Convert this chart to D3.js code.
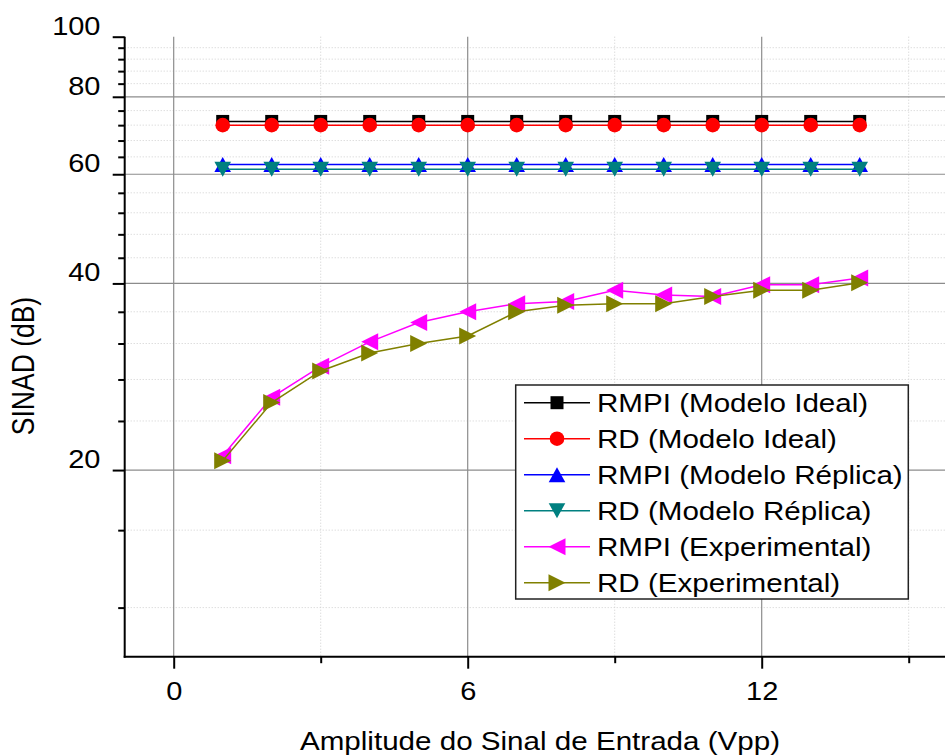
<!DOCTYPE html>
<html>
<head>
<meta charset="utf-8">
<script src="https://cdn.jsdelivr.net/npm/d3@7"></script>
<style>
  body { margin: 0; background: #fff; }
  svg { display: block; }
  text { font-family: "Liberation Sans", Arial, sans-serif; fill: #000; }
</style>
</head>
<body>
<svg id="chart" width="945" height="756"></svg>
<script>
// ---- data -------------------------------------------------------------
const amplitudes = [1, 2, 3, 4, 5, 6, 7, 8, 9, 10, 11, 12, 13, 14];

const rmpiIdeal   = [73.0, 73.0, 73.0, 73.0, 73.0, 73.0, 73.0, 73.0, 73.0, 73.0, 73.0, 73.0, 73.0, 73.0];
const rdIdeal     = [72.0, 72.0, 72.0, 72.0, 72.0, 72.0, 72.0, 72.0, 72.0, 72.0, 72.0, 72.0, 72.0, 72.0];
const rmpiReplica = [62.2, 62.2, 62.2, 62.2, 62.2, 62.2, 62.2, 62.2, 62.2, 62.2, 62.2, 62.2, 62.2, 62.2];
const rdReplica   = [61.1, 61.1, 61.1, 61.1, 61.1, 61.1, 61.1, 61.1, 61.1, 61.1, 61.1, 61.1, 61.1, 61.1];
const rmpiExp     = [21.1, 26.2, 29.4, 32.2, 34.6, 36.0, 37.1, 37.4, 39.0, 38.3, 38.1, 39.8, 39.8, 40.8];
const rdExp       = [20.7, 25.7, 28.9, 30.9, 32.0, 32.9, 36.0, 36.9, 37.1, 37.1, 38.1, 39.0, 39.0, 40.1];

const seriesNames = [
  "RMPI (Modelo Ideal)",
  "RD (Modelo Ideal)",
  "RMPI (Modelo Réplica)",
  "RD (Modelo Réplica)",
  "RMPI (Experimental)",
  "RD (Experimental)"
];

const xMajorTicks = [0, 6, 12];
const xMinorTicks = [3, 9, 15];
const yMajorTicks = [20, 40, 60, 80, 100];
const yMinorTicks = [12, 16, 24, 28, 32, 36, 44, 48, 52, 56, 64, 68, 72, 76, 84, 88, 92, 96];

const xLabel = "Amplitude do Sinal de Entrada (Vpp)";
const yLabel = "SINAD (dB)";

// ---- look -------------------------------------------------------------
const W = 945, H = 756;
const plot = { left: 124.7, top: 36.7, bottom: 656.7 };
const SX = 1.16;          // horizontal text stretch
const FS = 25.5;          // text size

const styles = [
  { color: "#000000", shape: "square" },
  { color: "#ff0000", shape: "circle" },
  { color: "#0000ff", shape: "up" },
  { color: "#008080", shape: "down" },
  { color: "#ff00ff", shape: "left" },
  { color: "#808000", shape: "right" }
];
const seriesValues = [rmpiIdeal, rdIdeal, rmpiReplica, rdReplica, rmpiExp, rdExp];

function markerPath(shape) {
  switch (shape) {
    case "square": return "M-6.5,-6.5H6.5V6.5H-6.5Z";
    case "circle": return d3.symbol(d3.symbolCircle, Math.PI * 7.3 * 7.3)();
    case "up":     return "M-8.3,7.5L0,-7.5L8.3,7.5Z";
    case "down":   return "M-8.3,-7.5L0,7.5L8.3,-7.5Z";
    case "left":   return "M-8.5,0L8.5,-8.5L8.5,8.5Z";
    case "right":  return "M8.5,0L-8.5,-8.5L-8.5,8.5Z";
  }
}

// ---- scales -----------------------------------------------------------
const x = d3.scaleLinear().domain([-1, 16]).range([plot.left, plot.left + 17 * 49]);
const y = d3.scaleLog().domain([10, 100]).range([plot.bottom, plot.top]);

const svg = d3.select("#chart");
svg.append("rect").attr("width", W).attr("height", H).attr("fill", "#fff");

// ---- grid -------------------------------------------------------------
const grid = svg.append("g");
grid.selectAll(".hminor").data(yMinorTicks).join("line")
  .attr("x1", plot.left).attr("x2", W)
  .attr("y1", d => y(d)).attr("y2", d => y(d))
  .attr("stroke", "#cfcfcf").attr("stroke-width", 1).attr("stroke-dasharray", "1,2");
grid.selectAll(".vminor").data(xMinorTicks).join("line")
  .attr("x1", d => x(d)).attr("x2", d => x(d))
  .attr("y1", plot.top).attr("y2", plot.bottom)
  .attr("stroke", "#cfcfcf").attr("stroke-width", 1).attr("stroke-dasharray", "1,2");
grid.selectAll(".hmajor").data(yMajorTicks.filter(d => d < 100)).join("line")
  .attr("x1", plot.left).attr("x2", W)
  .attr("y1", d => y(d)).attr("y2", d => y(d))
  .attr("stroke", "#8c8c8c").attr("stroke-width", 1.2);
grid.selectAll(".vmajor").data(xMajorTicks).join("line")
  .attr("x1", d => x(d)).attr("x2", d => x(d))
  .attr("y1", plot.top).attr("y2", plot.bottom)
  .attr("stroke", "#8c8c8c").attr("stroke-width", 1.2);

// ---- series -----------------------------------------------------------
const lineGen = d3.line().x(d => x(d[0])).y(d => y(d[1]));
seriesValues.forEach((vals, i) => {
  const pts = amplitudes.map((a, j) => [a, vals[j]]);
  const g = svg.append("g");
  g.append("path").datum(pts).attr("d", lineGen)
    .attr("fill", "none").attr("stroke", styles[i].color).attr("stroke-width", 1.5);
  g.selectAll("path.m").data(pts).join("path").attr("class", "m")
    .attr("d", markerPath(styles[i].shape))
    .attr("transform", d => `translate(${x(d[0])},${y(d[1])})`)
    .attr("fill", styles[i].color);
});

// ---- axes -------------------------------------------------------------
function styleAxis(g) {
  g.select(".domain").remove();
  g.selectAll(".tick line").attr("stroke", "#000").attr("stroke-width", 2);
}

const yAxis = svg.append("g").attr("transform", `translate(${plot.left},0)`)
  .call(d3.axisLeft(y).tickValues(yMajorTicks).tickSize(12).tickFormat(d3.format("d")));
styleAxis(yAxis);
yAxis.selectAll(".tick text")
  .attr("x", null).attr("y", null).attr("dy", null)
  .attr("transform", `translate(-24.2,-2.5) scale(${SX},1)`)
  .attr("text-anchor", "end").attr("font-size", FS - 0.5).attr("font-family", null);

const yMinor = svg.append("g").attr("transform", `translate(${plot.left},0)`)
  .call(d3.axisLeft(y).tickValues(yMinorTicks).tickSize(6.5).tickFormat(""));
styleAxis(yMinor);

const xAxis = svg.append("g").attr("transform", `translate(0,${plot.bottom})`)
  .call(d3.axisBottom(x).tickValues(xMajorTicks).tickSize(12).tickFormat(d3.format("d")));
styleAxis(xAxis);
xAxis.selectAll(".tick text")
  .attr("x", null).attr("y", null).attr("dy", null)
  .attr("transform", `translate(0,43.3) scale(${SX},1)`)
  .attr("text-anchor", "middle").attr("font-size", FS - 0.5).attr("font-family", null);

const xMinor = svg.append("g").attr("transform", `translate(0,${plot.bottom})`)
  .call(d3.axisBottom(x).tickValues(xMinorTicks).tickSize(6.5).tickFormat(""));
styleAxis(xMinor);

// axis lines
svg.append("line").attr("x1", plot.left).attr("x2", plot.left)
  .attr("y1", plot.top).attr("y2", plot.bottom + 1)
  .attr("stroke", "#000").attr("stroke-width", 2);
svg.append("line").attr("x1", plot.left - 1).attr("x2", W)
  .attr("y1", plot.bottom).attr("y2", plot.bottom)
  .attr("stroke", "#000").attr("stroke-width", 2);

// axis titles
svg.append("text")
  .attr("transform", `translate(540,749.5) scale(${SX},1)`)
  .attr("text-anchor", "middle").attr("font-size", FS)
  .text(xLabel);
svg.append("text")
  .attr("transform", `translate(34,366) scale(${SX},1) rotate(-90)`)
  .attr("text-anchor", "middle").attr("font-size", FS + 1)
  .text(yLabel);

// ---- legend -----------------------------------------------------------
const legend = svg.append("g");
legend.append("rect")
  .attr("x", 515.7).attr("y", 385).attr("width", 392.6).attr("height", 214)
  .attr("fill", "#fff").attr("stroke", "#222").attr("stroke-width", 1.5);
seriesNames.forEach((name, i) => {
  const ry = 402.7 + i * 36;
  const row = legend.append("g");
  row.append("line").attr("x1", 524).attr("x2", 590).attr("y1", ry).attr("y2", ry)
    .attr("stroke", styles[i].color).attr("stroke-width", 1.5);
  row.append("path").attr("d", markerPath(styles[i].shape))
    .attr("transform", `translate(557,${ry})`).attr("fill", styles[i].color);
  row.append("text")
    .attr("transform", `translate(597,${ry + 9}) scale(${SX},1)`)
    .attr("font-size", FS)
    .text(name);
});
</script>
</body>
</html>
